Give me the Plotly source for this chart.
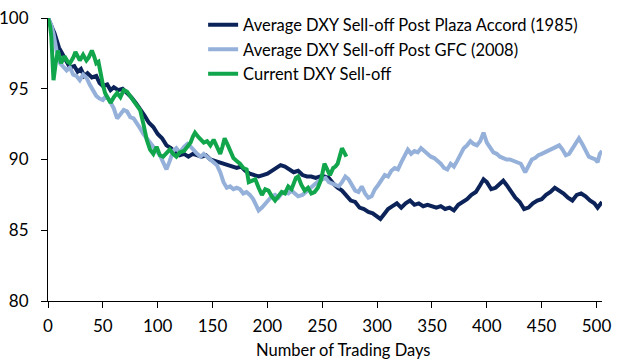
import plotly.graph_objects as go

# ---- data ----
plaza_days = [0, 3, 6, 10, 14, 17, 20, 24, 27, 30, 33, 36, 40, 44, 47, 50, 54, 57, 60, 64, 68, 72, 76, 80, 84, 88, 92, 96, 100, 104, 108, 112, 116, 120, 124, 128, 132, 136, 140, 144, 148, 152, 156, 160, 164, 168, 172, 176, 180, 184, 188, 192, 196, 200, 204, 208, 212, 216, 220, 224, 228, 232, 236, 240, 244, 248, 252, 256, 260, 264, 268, 272, 276, 280, 284, 288, 292, 296, 300, 303, 306, 310, 314, 318, 322, 326, 330, 334, 338, 342, 346, 350, 354, 358, 362, 366, 370, 374, 378, 382, 386, 390, 394, 397, 400, 404, 408, 412, 415, 418, 422, 426, 430, 434, 438, 442, 446, 450, 454, 458, 462, 466, 470, 474, 478, 482, 486, 490, 494, 498, 501, 505]
plaza_vals = [100, 99.4, 98.9, 97.9, 97.3, 96.8, 96.5, 96.6, 96.2, 96.4, 95.9, 96.1, 95.8, 95.9, 95.4, 95.2, 95.3, 94.9, 95.1, 94.9, 95.0, 94.7, 94.4, 94.0, 93.6, 93.1, 92.6, 92.3, 91.8, 91.5, 91.0, 90.8, 90.5, 90.3, 90.4, 90.2, 90.4, 90.3, 90.2, 90.3, 90.0, 89.9, 89.8, 89.7, 89.6, 89.5, 89.4, 89.5, 89.2, 89.0, 88.9, 88.8, 88.9, 89.0, 89.2, 89.4, 89.6, 89.5, 89.3, 89.1, 89.2, 88.9, 88.8, 88.8, 88.7, 88.8, 88.8, 88.7, 88.3, 88.0, 87.8, 87.4, 87.1, 87.0, 86.6, 86.5, 86.3, 86.2, 86.0, 85.8, 86.1, 86.5, 86.7, 86.9, 86.6, 86.9, 87.1, 86.8, 86.9, 86.7, 86.8, 86.7, 86.6, 86.7, 86.5, 86.6, 86.4, 86.8, 87.0, 87.2, 87.5, 87.7, 88.2, 88.6, 88.4, 87.9, 88.0, 88.3, 88.5, 88.2, 87.7, 87.3, 87.0, 86.5, 86.6, 86.9, 87.1, 87.2, 87.5, 87.7, 88.0, 87.8, 87.6, 87.3, 87.1, 87.5, 87.6, 87.4, 87.1, 86.9, 86.6, 87.0]

gfc_days = [0, 3, 5, 8, 11, 14, 17, 20, 23, 26, 29, 32, 35, 38, 41, 44, 47, 50, 53, 56, 60, 63, 66, 69, 72, 75, 78, 81, 84, 87, 90, 93, 96, 99, 102, 105, 108, 111, 114, 117, 120, 124, 127, 130, 133, 136, 139, 142, 145, 148, 151, 154, 157, 160, 163, 166, 169, 172, 175, 178, 181, 184, 187, 190, 192, 195, 198, 201, 204, 207, 210, 213, 216, 219, 222, 225, 228, 232, 235, 238, 241, 244, 247, 250, 253, 256, 259, 262, 265, 268, 271, 274, 277, 280, 283, 286, 289, 292, 295, 298, 301, 304, 307, 310, 313, 316, 319, 322, 325, 328, 331, 334, 337, 340, 343, 346, 349, 352, 355, 358, 361, 364, 367, 370, 373, 376, 379, 382, 385, 388, 391, 394, 397, 400, 403, 406, 409, 412, 415, 418, 421, 424, 427, 431, 435, 438, 441, 444, 447, 450, 453, 456, 460, 463, 466, 469, 472, 475, 478, 481, 484, 487, 490, 493, 496, 499, 501, 503, 505]
gfc_vals = [100, 99.5, 98.9, 97.6, 96.8, 96.5, 96.3, 96.5, 96.0, 95.9, 95.6, 96.0, 95.8, 95.3, 94.9, 94.5, 94.3, 94.2, 94.5, 94.2, 93.6, 92.9, 93.2, 93.5, 93.4, 93.0, 92.9, 92.6, 92.2, 91.8, 91.5, 91.2, 91.0, 90.6, 90.3, 89.8, 89.3, 89.9, 90.6, 90.8, 90.5, 90.9, 91.1, 90.9, 90.6, 90.4, 90.2, 90.4, 90.2, 90.0, 89.8, 89.6, 89.1, 88.4, 88.0, 88.1, 87.9, 88.0, 87.9, 87.6, 87.7, 87.5, 87.2, 86.8, 86.4, 86.6, 86.9, 87.2, 87.4, 87.5, 87.3, 87.6, 87.7, 87.6, 87.8, 87.6, 87.4, 87.5, 87.7, 87.9, 88.1, 88.3, 88.5, 88.6, 88.7, 88.4, 88.3, 88.2, 88.1, 88.4, 88.8, 88.6, 88.2, 87.8, 87.7, 88.1, 87.6, 87.3, 87.4, 87.9, 88.2, 88.5, 88.9, 88.8, 89.2, 89.4, 89.3, 89.8, 90.2, 90.7, 90.4, 90.6, 90.5, 90.8, 90.6, 90.4, 90.2, 90.1, 89.9, 89.7, 89.4, 89.3, 89.7, 89.5, 89.9, 90.4, 90.8, 91.0, 91.3, 91.1, 91.0, 91.3, 91.9, 91.2, 90.8, 90.5, 90.4, 90.2, 90.1, 90.0, 90.0, 89.9, 89.8, 89.7, 89.1, 89.6, 90.0, 90.1, 90.3, 90.4, 90.5, 90.6, 90.8, 90.9, 91.0, 90.7, 90.3, 90.4, 90.8, 91.2, 91.5, 91.1, 90.6, 90.2, 90.1, 90.0, 89.8, 90.4, 90.6]

current_days = [0, 2, 3, 5, 7, 9, 12, 15, 18, 20, 23, 25, 27, 29, 32, 35, 37, 40, 42, 44, 46, 48, 50, 52, 55, 57, 60, 63, 66, 69, 72, 76, 80, 84, 87, 90, 93, 96, 99, 102, 105, 108, 111, 114, 117, 120, 124, 127, 130, 132, 134, 137, 139, 142, 145, 148, 151, 154, 157, 159, 161, 164, 167, 169, 172, 175, 178, 181, 183, 186, 189, 192, 195, 198, 201, 204, 207, 210, 213, 216, 219, 222, 224, 226, 228, 231, 234, 237, 240, 243, 246, 249, 252, 255, 257, 260, 262, 264, 266, 268, 270, 272]
current_vals = [100, 99.4, 98.7, 95.6, 96.8, 97.7, 96.8, 97.3, 96.9, 96.8, 97.2, 97.6, 97.3, 97.0, 97.4, 97.0, 97.2, 97.7, 97.3, 96.8, 96.9, 95.9, 95.3, 94.7, 94.3, 94.0, 94.4, 94.7, 94.4, 94.9, 94.8, 94.4, 94.0, 93.5, 92.5, 91.4, 90.7, 90.4, 90.9, 90.3, 90.2, 90.5, 90.7, 90.4, 90.2, 90.5, 90.6, 90.9, 91.2, 91.6, 91.9, 91.6, 91.4, 91.2, 91.3, 91.0, 91.4, 90.9, 90.4, 90.9, 91.5, 91.0, 90.4, 90.1, 89.9, 89.7, 89.4, 89.3, 88.4, 88.5, 88.6, 88.0, 87.5, 87.9, 87.8, 87.4, 87.1, 87.4, 87.7, 87.6, 88.1, 87.9, 88.4, 88.7, 88.8, 88.2, 87.8, 88.0, 87.6, 87.7, 88.0, 88.6, 89.7, 89.2, 88.9, 89.4, 89.5, 89.7, 90.3, 90.8, 90.5, 90.2]

series_names = [
    "Average DXY Sell-off Post Plaza Accord (1985)",
    "Average DXY Sell-off Post GFC (2008)",
    "Current DXY Sell-off",
]
x_ticks = [0, 50, 100, 150, 200, 250, 300, 350, 400, 450, 500]
y_ticks = [80, 85, 90, 95, 100]
x_title = "Number of Trading Days"

colors = ["#0B2358", "#95B1DA", "#12A64C"]
FONT = "Lato"

fig = go.Figure()
for i, (xs, ys) in enumerate([(plaza_days, plaza_vals), (gfc_days, gfc_vals), (current_days, current_vals)]):
    fig.add_trace(go.Scatter(
        x=xs, y=ys, mode="lines", name=series_names[i],
        legendgroup=f"g{i}",
        line=dict(color=colors[i], width=4),
    ))

fig.update_layout(
    width=625, height=361,
    margin=dict(l=48, r=23, t=18, b=60, autoexpand=False),
    paper_bgcolor="white", plot_bgcolor="white",
    font=dict(family=FONT, size=16, color="#000000"),
    showlegend=True,
    legend=dict(
        x=0.280, y=1.037, xanchor="left", yanchor="top",
        bgcolor="rgba(0,0,0,0)", font=dict(size=16.5, family=FONT),
        traceorder="grouped", tracegroupgap=0,
    ),
    xaxis=dict(
        range=[0, 505], tickvals=x_ticks, showgrid=False, zeroline=False,
        showline=True, linecolor="#000000", linewidth=1,
        ticks="outside", ticklen=6, tickcolor="#000000",
        tickfont=dict(size=17, family=FONT), automargin=False,
        ticklabelstandoff=4, ticklabeloverflow="allow",
    ),
    yaxis=dict(
        range=[80, 100], tickvals=y_ticks, showgrid=False, zeroline=False,
        showline=True, linecolor="#000000", linewidth=1,
        ticks="outside", ticklen=6, tickcolor="#000000",
        tickfont=dict(size=17, family=FONT), automargin=False,
        ticklabelstandoff=9, ticklabeloverflow="allow",
    ),
    annotations=[dict(
        text=x_title, xref="paper", yref="paper", x=0.534, y=0,
        yshift=-37, xanchor="center", yanchor="top", showarrow=False,
        font=dict(size=16.5, family=FONT),
    )],
)

# remove the browser's default 8px body margin so the figure fills the window
fig.write_html(
    "out.html",
    config={"displayModeBar": False},
    post_script="document.body.style.margin='0';",
)
